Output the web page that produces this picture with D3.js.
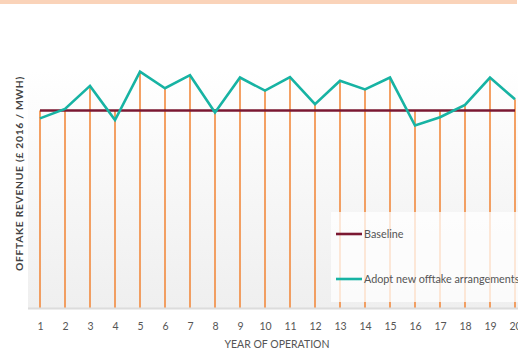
<!DOCTYPE html>
<html>
<head>
<meta charset="utf-8">
<script src="https://cdn.jsdelivr.net/npm/d3@7"></script>
<style>
  html, body { margin: 0; padding: 0; background: #fff; }
  svg { display: block; font-family: "Lato", "Open Sans", sans-serif; }
</style>
</head>
<body>
<svg id="chart" width="518" height="351"></svg>
<script>
// Offtake revenue per year of operation (£ 2016 / MWh, relative units)
const years = d3.range(1, 21);
const baseline = [49.8, 49.8, 49.8, 49.8, 49.8, 49.8, 49.8, 49.8, 49.8, 49.8,
                  49.8, 49.8, 49.8, 49.8, 49.8, 49.8, 49.8, 49.8, 49.8, 49.8];
const newOfftake = [47.8, 50.2, 56.0, 47.4, 59.6, 55.4, 58.7, 49.3, 58.1, 54.8,
                    58.2, 51.4, 57.3, 55.1, 58.1, 46.0, 48.1, 51.2, 58.1, 52.6];
const seriesNames = ["Baseline", "Adopt new offtake arrangements"];
const seriesColors = ["#7b1832", "#17b3a3"];

const svg = d3.select("#chart");
const plot = { left: 28, right: 518, top: 70, bottom: 308 };

// Top accent band
svg.append("rect").attr("x", 0).attr("y", 0).attr("width", 517).attr("height", 4)
  .attr("fill", "#fad3b9");

const defs = svg.append("defs");
const grad = defs.append("linearGradient").attr("id", "bg")
  .attr("x1", 0).attr("y1", 0).attr("x2", 0).attr("y2", 1);
grad.append("stop").attr("offset", "0%").attr("stop-color", "#ffffff");
grad.append("stop").attr("offset", "100%").attr("stop-color", "#efefef");

svg.append("rect")
  .attr("x", plot.left).attr("y", plot.top)
  .attr("width", plot.right - plot.left).attr("height", plot.bottom - plot.top)
  .attr("fill", "url(#bg)");

const x = d3.scalePoint().domain(years).range([40, 515]);
const y = d3.scaleLinear().domain([0, 60]).range([plot.bottom, plot.top]);

// Drop lines from the axis up to the higher of the two series
svg.append("g").selectAll("line").data(years).join("line")
  .attr("x1", d => x(d)).attr("x2", d => x(d))
  .attr("y1", plot.bottom)
  .attr("y2", (d, i) => y(Math.max(baseline[i], newOfftake[i])))
  .attr("stroke", "#f28a3e").attr("stroke-width", 1.6);

// Bottom axis line
svg.append("line")
  .attr("x1", plot.left).attr("x2", plot.right)
  .attr("y1", plot.bottom + 0.5).attr("y2", plot.bottom + 0.5)
  .attr("stroke", "#dcdcdc").attr("stroke-width", 2);

const line = d3.line().x((d, i) => x(years[i])).y(d => y(d));

svg.append("path").datum(baseline).attr("d", line)
  .attr("fill", "none").attr("stroke", seriesColors[0]).attr("stroke-width", 2.6);
svg.append("path").datum(newOfftake).attr("d", line)
  .attr("fill", "none").attr("stroke", seriesColors[1]).attr("stroke-width", 2.6)
  .attr("stroke-linejoin", "miter");

// X axis tick labels
const xAxis = d3.axisBottom(x).tickSize(0).tickPadding(0);
const gx = svg.append("g").attr("transform", `translate(0,${plot.bottom + 22})`).call(xAxis);
gx.select(".domain").remove();
gx.selectAll("text").attr("fill", "#555").attr("font-size", 10.5)
  .attr("dy", 0).attr("font-family", "Lato, sans-serif");

svg.append("text").attr("x", 277).attr("y", 348)
  .attr("text-anchor", "middle").attr("fill", "#555").attr("font-size", 10.5)
  .text("YEAR OF OPERATION");

svg.append("text")
  .attr("transform", `translate(23,${(72 + 275) / 2}) rotate(-90)`)
  .attr("text-anchor", "middle").attr("fill", "#444").attr("font-size", 10.3)
  .attr("font-weight", "bold").attr("letter-spacing", 0.7)
  .text("OFFTAKE REVENUE (£ 2016 / MWH)");

// Legend
const lg = svg.append("g");
lg.append("rect").attr("x", 331).attr("y", 212).attr("width", 190).attr("height", 90)
  .attr("fill", "#ffffff").attr("fill-opacity", 0.75);
const legendY = [234, 279];
seriesNames.forEach((name, i) => {
  lg.append("line").attr("x1", 336).attr("x2", 362)
    .attr("y1", legendY[i]).attr("y2", legendY[i])
    .attr("stroke", seriesColors[i]).attr("stroke-width", 2.6);
  lg.append("text").attr("x", 364).attr("y", legendY[i] + 3.5)
    .attr("fill", "#555").attr("font-size", 10.8).text(name);
});
</script>
</body>
</html>
